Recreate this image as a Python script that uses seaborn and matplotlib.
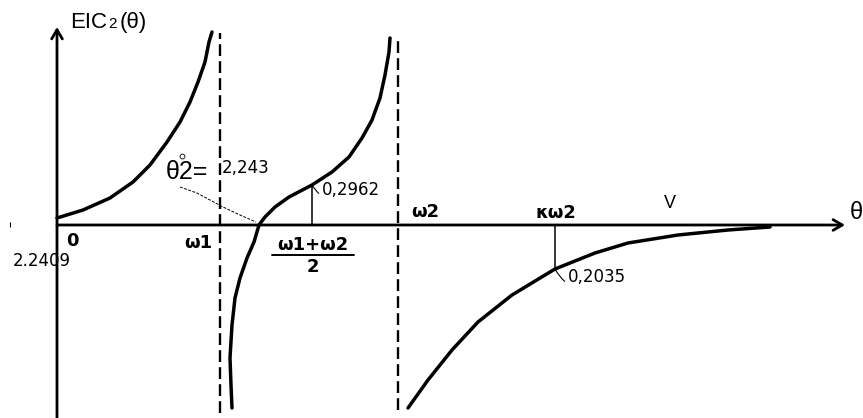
import matplotlib
matplotlib.use("Agg")
import matplotlib.pyplot as plt
import seaborn as sns
import pandas as pd

sns.set_theme(style="white")
plt.rcParams["font.family"] = ["Liberation Sans", "DejaVu Sans"]
plt.rcParams["text.color"] = "black"

# Reference positions along the θ axis (drawing units, origin at the axes crossing)
omega1 = 163
omega2 = 341
mid_omega = 255
k_omega2 = 498

# Marked values on the curve
val_mid = 40      # height at (ω1+ω2)/2, labelled 0,2962
val_k = -44       # depth at κω2, labelled 0,2035

# Branch 1: 0 → ω1
b1_x = [0, 26, 53, 76, 93, 110, 123, 133, 141, 148, 152, 155]
b1_y = [7, 15, 27, 43, 60, 83, 103, 123, 143, 163, 183, 193]

# Branch 2: ω1 → ω2 (crosses zero at θ°2)
b2_x = [175, 174, 173, 175, 178, 183, 190, 197, 202, 208, 218, 232, 255,
        275, 292, 305, 315, 323, 328, 332, 333]
b2_y = [-183, -160, -133, -100, -73, -53, -33, -17, 0, 8, 18, 28, 40,
        53, 68, 87, 105, 127, 150, 173, 187]

# Branch 3: ω2 → V
b3_x = [351, 371, 395, 421, 455, 498, 538, 571, 621, 671, 713]
b3_y = [-183, -155, -125, -97, -70, -44, -28, -18, -10, -5, -2]

# Leader from the θ°2 label to the root
lead_x = [123, 140, 153, 166, 183, 199]
lead_y = [38, 32, 25, 18, 10, 3]

branches = pd.concat([
    pd.DataFrame({"theta": b1_x, "eic": b1_y, "branch": "1"}),
    pd.DataFrame({"theta": b2_x, "eic": b2_y, "branch": "2"}),
    pd.DataFrame({"theta": b3_x, "eic": b3_y, "branch": "3"}),
])

fig = plt.figure(figsize=(8.63, 4.18), dpi=100)
ax = fig.add_axes([0, 0, 1, 1])
ax.set_xlim(-57, 806)
ax.set_ylim(-193, 225)
ax.axis("off")

for key, grp in branches.groupby("branch"):
    sns.lineplot(data=grp, x="theta", y="eic", sort=False, estimator=None,
                 errorbar=None, color="black", linewidth=2.5, ax=ax, legend=False)

# Axes with arrow heads
arrow = dict(arrowstyle="->,head_length=0.55,head_width=0.32", color="black",
             lw=2.0, shrinkA=0, shrinkB=0)
ax.annotate("", xy=(0, 198), xytext=(0, -193), arrowprops=arrow)
ax.annotate("", xy=(788, 0), xytext=(0, 0), arrowprops=arrow)

# Asymptotes
ax.vlines([omega1], -188, 192, colors="black", linestyles=(0, (5, 2.2)), lw=1.7)
ax.vlines([omega2], -185, 189, colors="black", linestyles=(0, (5, 2.2)), lw=1.7)

num_font = dict(fontsize=12, family="DejaVu Sans")
sym_font = dict(fontsize=13, family="DejaVu Sans", fontweight="bold")

# Value markers
ax.vlines([mid_omega], 0, val_mid, colors="black", lw=1.1)
ax.vlines([k_omega2], val_k, 0, colors="black", lw=1.1)
ax.annotate("0,2962", xy=(mid_omega, val_mid), xytext=(mid_omega + 10, val_mid - 5),
            va="center", ha="left", **num_font,
            arrowprops=dict(arrowstyle="-", lw=0.8, color="black",
                            connectionstyle="arc3,rad=-0.6", shrinkA=0, shrinkB=0))
ax.annotate("0,2035", xy=(k_omega2, val_k), xytext=(k_omega2 + 13, val_k - 8),
            va="center", ha="left", **num_font,
            arrowprops=dict(arrowstyle="-", lw=0.8, color="black",
                            connectionstyle="arc3,rad=-0.6", shrinkA=0, shrinkB=0))

# Root θ°2
ax.plot(lead_x, lead_y, color="black", lw=0.7, ls=(0, (3, 1.5)))
ax.text(109, 53, "θ2=", fontsize=18, ha="left", va="center")
ax.plot([125], [69], marker="o", ms=3.5, mfc="white", mec="black", mew=0.6)
ax.text(165, 57, "2,243", ha="left", va="center", **num_font)

# Axis titles
ax.text(13, 197, "EIC", fontsize=16, ha="left", va="baseline")
ax.text(51, 197, "2", fontsize=11, ha="left", va="baseline")
ax.text(63, 197, "(θ)", fontsize=16, ha="left", va="baseline")
ax.text(799, 12, "θ", fontsize=17, ha="center", va="center")

# Labels along θ
ax.text(15, -16, "0", ha="center", va="center", **sym_font)
ax.text(-15, -36, "2.2409", ha="center", va="center", **num_font)
ax.text(141, -18, "ω1", ha="center", va="center", **sym_font)
ax.text(256, -20, "ω1+ω2", ha="center", va="center", **sym_font)
ax.plot([215, 297], [-30, -30], color="black", lw=1.4)
ax.text(256, -42, "2", ha="center", va="center", **sym_font)
ax.text(368, 13, "ω2", ha="center", va="center", **sym_font)
ax.text(499, 12, "κω2", ha="center", va="center", **sym_font)
ax.text(613, 21, "V", fontsize=13, ha="center", va="center")
ax.vlines([-47], -2, 3, colors="black", lw=0.8)

fig.savefig("out.png", dpi=100, facecolor="white")
